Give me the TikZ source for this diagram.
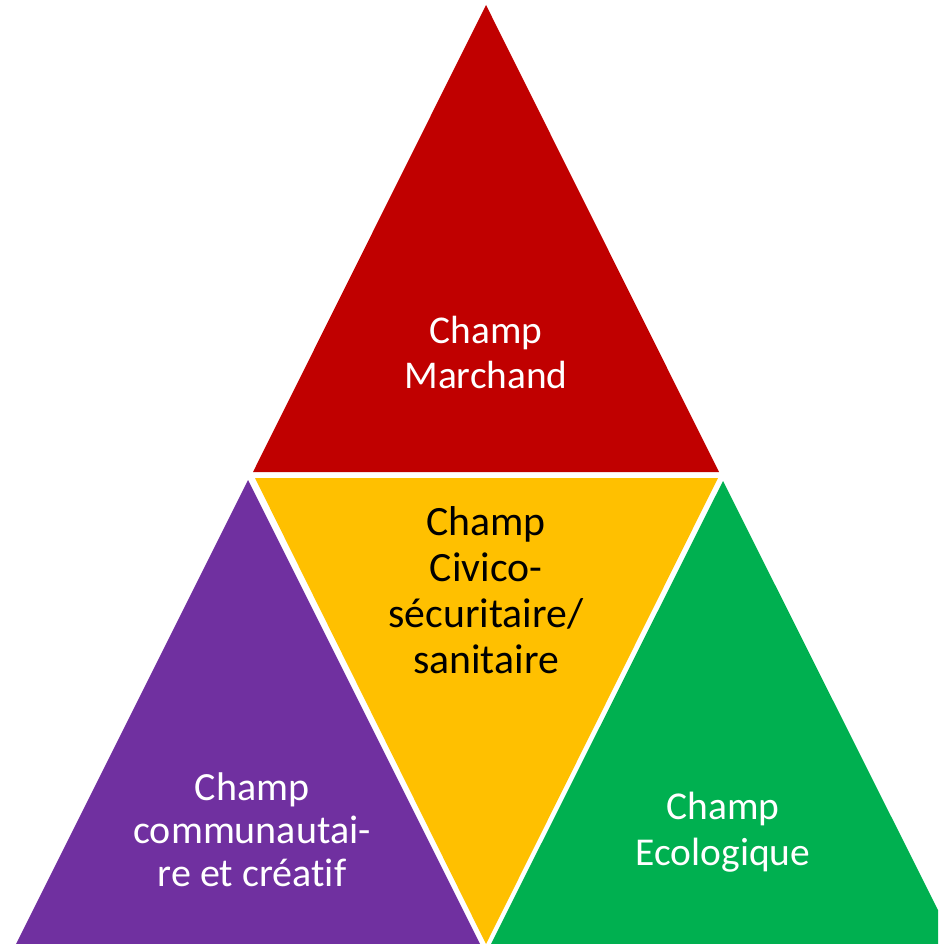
\documentclass[tikz,border=0pt]{standalone}
\usepackage{fontspec}
\setmainfont[Ligatures=NoCommon]{Carlito}
\definecolor{cred}{HTML}{C00000}
\definecolor{cyellow}{HTML}{FFC000}
\definecolor{cpurple}{HTML}{7030A0}
\definecolor{cgreen}{HTML}{00B050}
\tikzset{
  lbl/.style={anchor=base, inner sep=0pt},
}
\newcommand{\lines}[3]{{\fontsize{#1}{#2}\selectfont\setlength{\tabcolsep}{0pt}\begin{tabular}[t]{c}#3\end{tabular}}}
\begin{document}
\begin{tikzpicture}[x=0.75pt,y=-0.75pt]
\useasboundingbox (0,0) rectangle (938,944);
\clip (0,0) rectangle (938,944);
% triangles
\fill[cred] (486,5) -- (253,472) -- (719,472) -- cycle;
\fill[cyellow] (255,478) -- (718,478) -- (486,944) -- cycle;
\fill[cpurple] (248,480) -- (16,944) -- (480,944) -- cycle;
\fill[cgreen] (723,481) -- (491,944) -- (955,944) -- cycle;
% labels
\node[lbl, text=white] (tred) at (486,344) {\lines{29.5}{33.5}{Champ\\Marchand}};
\node[lbl, text=black] (tyellow) at (486,535) {\lines{31.3}{34.5}{Champ\\Civico-\\sécuritaire/\\sanitaire}};
\node[lbl, text=white] (tpurple) at (252,800) {\lines{30}{32.25}{Champ\\communautai-\\re et créatif}};
\node[lbl, text=white] (tgreen) at (723,819) {\lines{29.6}{34.5}{Champ\\Ecologique}};
\end{tikzpicture}
\end{document}
